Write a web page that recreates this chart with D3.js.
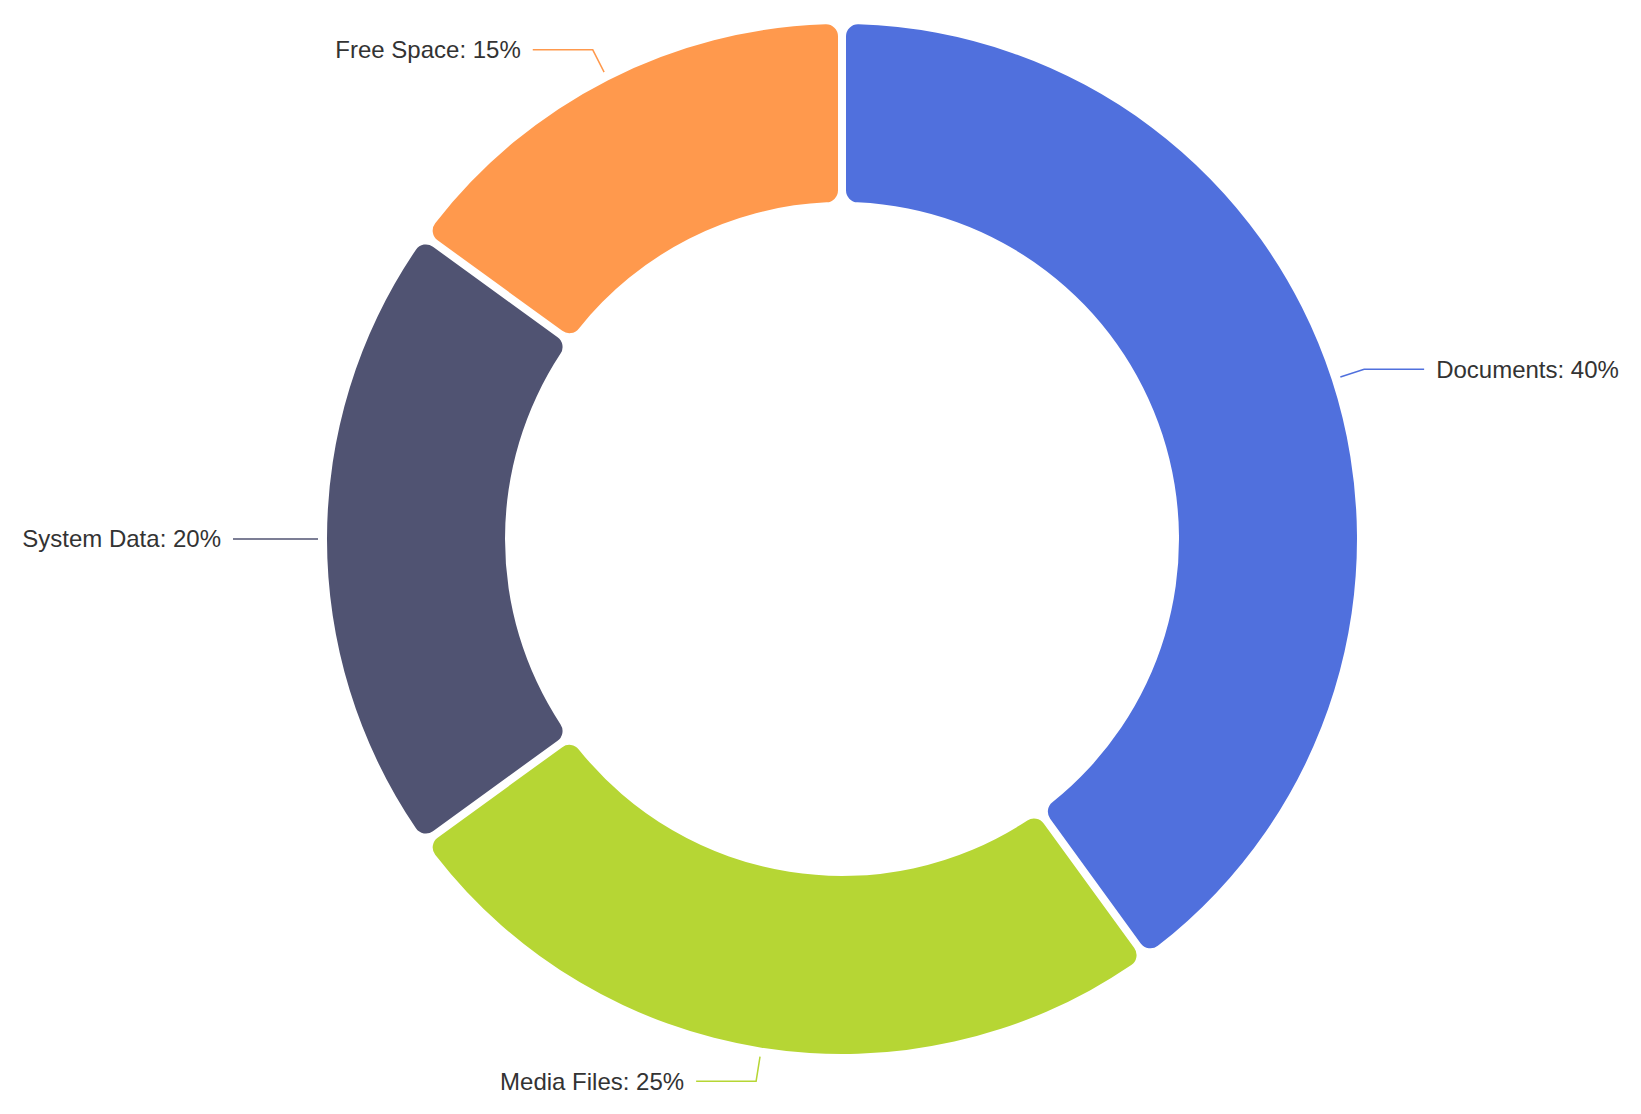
<!DOCTYPE html>
<html lang="en">
<head>
    <meta charset="UTF-8">
    <title>Storage Usage</title>
    <script src="https://d3js.org/d3.v7.min.js"></script>
    <style>
        body {
            margin: 0;
            background: #fff;
        }
        svg {
            display: block;
        }
        .label {
            font-family: "Liberation Sans", Arial, Helvetica, sans-serif;
            font-size: 24px;
            fill: #333;
        }
    </style>
</head>
<body>
    <script>
        // Data
        const categories = ["Documents", "Media Files", "System Data", "Free Space"];
        const shares = [40, 25, 20, 15];
        const colors = ["#5070dd", "#b6d634", "#505372", "#ff994d"];

        const width = 1641;
        const height = 1114;
        const cx = 842, cy = 539;
        const outerR = 515, innerR = 337;

        const svg = d3.select("body").append("svg")
            .attr("width", width)
            .attr("height", height);

        const g = svg.append("g")
            .attr("transform", `translate(${cx},${cy})`);

        const pie = d3.pie()
            .sort(null)
            .value(d => d.value);

        const data = pie(categories.map((c, i) => ({ name: c, value: shares[i], color: colors[i] })));

        const arc = d3.arc()
            .innerRadius(innerR)
            .outerRadius(outerR)
            .cornerRadius(12)
            .padAngle(8 / outerR)
            .padRadius(outerR);

        g.append("g")
            .selectAll("path")
            .data(data)
            .join("path")
            .attr("d", arc)
            .attr("fill", d => d.data.color);

        // Label lines: radial piece, then horizontal piece
        const lineStart = d3.arc().innerRadius(outerR + 9).outerRadius(outerR + 9);
        const lineBend = d3.arc().innerRadius(outerR + 34).outerRadius(outerR + 34);
        const horiz = 60;

        const labels = g.append("g")
            .selectAll("g")
            .data(data)
            .join("g");

        labels.each(function(d) {
            const sel = d3.select(this);
            const mid = (d.startAngle + d.endAngle) / 2;
            const right = Math.sin(mid) > 0.01;
            const p0 = lineStart.centroid(d);
            const p1 = lineBend.centroid(d);
            const p2 = [p1[0] + (right ? horiz : -horiz), p1[1]];

            sel.append("polyline")
                .attr("points", [p0, p1, p2].map(p => p.join(",")).join(" "))
                .attr("fill", "none")
                .attr("stroke", d.data.color)
                .attr("stroke-width", 1.5);

            sel.append("text")
                .attr("class", "label")
                .attr("x", p2[0] + (right ? 12 : -12))
                .attr("y", p2[1])
                .attr("dy", "0.35em")
                .attr("text-anchor", right ? "start" : "end")
                .text(`${d.data.name}: ${d.data.value}%`);
        });
    </script>
</body>
</html>
